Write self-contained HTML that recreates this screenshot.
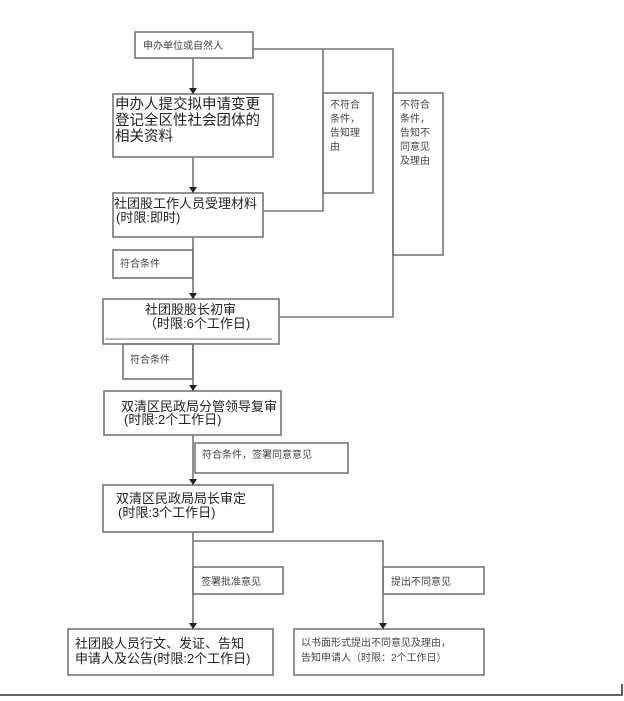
<!DOCTYPE html>
<html><head><meta charset="utf-8"><style>
html,body{margin:0;padding:0;background:#fff;width:624px;height:701px;overflow:hidden}
svg{display:block}
text{font-family:"Liberation Sans","Noto Sans CJK SC",sans-serif;fill:#222}
.s{font-size:10px;fill:#444}
.m{font-size:13px}
</style></head><body>
<svg width="624" height="701" viewBox="0 0 624 701" xmlns="http://www.w3.org/2000/svg">
<g fill="none" stroke="#777" stroke-width="1.6">
<rect x="135" y="32" width="118" height="26"/>
<rect x="113" y="94" width="160" height="63"/>
<rect x="113" y="193" width="150" height="44"/>
<rect x="323" y="93" width="50" height="100"/>
<rect x="393" y="93" width="50" height="162"/>
<rect x="113" y="250" width="80" height="28"/>
<rect x="103" y="299" width="176" height="45"/>
<line x1="105" y1="339" x2="272" y2="339" stroke-width="1"/>
<rect x="123" y="344" width="70" height="35"/>
<rect x="104" y="391" width="177" height="44"/>
<rect x="195" y="443" width="153" height="30"/>
<rect x="103" y="485" width="170" height="47"/>
<rect x="193" y="567" width="90" height="27"/>
<rect x="383" y="567" width="101" height="27"/>
<rect x="68" y="629" width="205" height="46"/>
<rect x="294" y="629" width="190" height="46"/>
<polyline points="253,49 393,49 393,317 279,317"/>
<polyline points="323,49 323,211 263,211"/>
<line x1="193" y1="58" x2="193" y2="94"/>
<line x1="193" y1="157" x2="193" y2="193"/>
<line x1="193" y1="237" x2="193" y2="299"/>
<line x1="193" y1="344" x2="193" y2="391"/>
<line x1="193" y1="435" x2="193" y2="485"/>
<polyline points="193,532 193,629"/>
<polyline points="193,541 383,541 383,629"/>
<polyline points="0,695 622,695 622,684" stroke="#333"/>
</g>
<g fill="#222">
<polygon points="189,88 197,88 193,94"/>
<polygon points="189,187 197,187 193,193"/>
<polygon points="189,293 197,293 193,299"/>
<polygon points="189,385 197,385 193,391"/>
<polygon points="189,479 197,479 193,485"/>
<polygon points="189,623 197,623 193,629"/>
<polygon points="379,623 387,623 383,629"/>
</g>
<text class="s" x="143" y="49">申办单位或自然人</text>
<text x="115" y="109" style="font-size:14.5px">申办人提交拟申请变更</text>
<text x="115" y="125" style="font-size:14.5px">登记全区性社会团体的</text>
<text x="115" y="141" style="font-size:14.5px">相关资料</text>
<text class="m" x="114" y="208">社团股工作人员受理材料</text>
<text class="m" x="116" y="222">(时限:即时)</text>
<text class="s" x="330" y="108">不符合</text>
<text class="s" x="330" y="122">条件，</text>
<text class="s" x="330" y="136">告知理</text>
<text class="s" x="330" y="150">由</text>
<text class="s" x="400" y="108">不符合</text>
<text class="s" x="400" y="122">条件，</text>
<text class="s" x="400" y="136">告知不</text>
<text class="s" x="400" y="150">同意见</text>
<text class="s" x="400" y="164">及理由</text>
<text class="s" x="120" y="267">符合条件</text>
<text class="m" x="145" y="314">社团股股长初审</text>
<text class="m" x="144" y="328">（时限:6个工作日)</text>
<text class="s" x="130" y="363">符合条件</text>
<text class="m" x="121" y="411">双清区民政局分管领导复审</text>
<text class="m" x="124" y="424">(时限:2个工作日)</text>
<text class="s" x="202" y="458">符合条件，签署同意意见</text>
<text class="m" x="116" y="503">双清区民政局局长审定</text>
<text class="m" x="118" y="517">(时限:3个工作日)</text>
<text class="s" x="201" y="585">签署批准意见</text>
<text class="s" x="391" y="585">提出不同意见</text>
<text class="m" x="75" y="648">社团股人员行文、发证、告知</text>
<text class="m" x="75" y="663">申请人及公告(时限:2个工作日)</text>
<text class="s" x="301" y="646">以书面形式提出不同意见及理由，</text>
<text class="s" x="301" y="661">告知申请人（时限：2个工作日）</text>
</svg>
</body></html>
